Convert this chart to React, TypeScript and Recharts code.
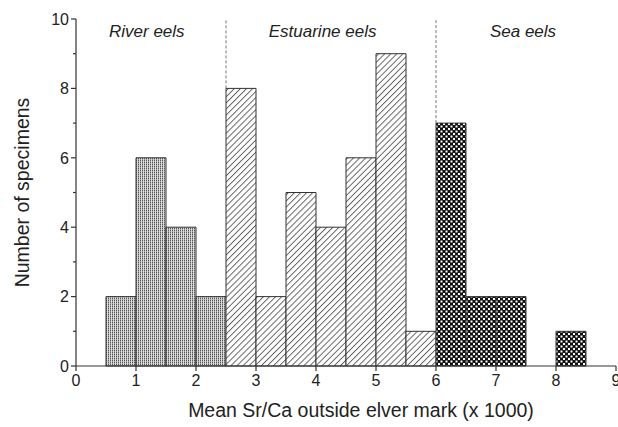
import React from 'react';
import { BarChart, Bar, XAxis, YAxis, Cell, ReferenceLine, ReferenceDot } from 'recharts';

// histogram bins (lower edge) and counts
const binStarts = [0.5, 1, 1.5, 2, 2.5, 3, 3.5, 4, 4.5, 5, 5.5, 6, 6.5, 7, 7.5, 8];
const counts = [2, 6, 4, 2, 8, 2, 5, 4, 6, 9, 1, 7, 2, 2, 0, 1];
const binWidth = 0.5;

const xTicks = [0, 1, 2, 3, 4, 5, 6, 7, 8, 9];
const yTicks = [0, 1, 2, 3, 4, 5, 6, 7, 8, 9, 10];

const groupNames = ['River eels', 'Estuarine eels', 'Sea eels'];
const groupFills = ['url(#riverFill)', 'url(#estuarineFill)', 'url(#seaFill)'];
const groupLabelX = [1.18, 4.11, 7.45];
const groupLabelY = 9.63;
const dividers = [2.5, 6];

const groupOf = (start: number) => {
    if (start < dividers[0]) return 0;
    if (start < dividers[1]) return 1;
    return 2;
};

const data = binStarts.map((s, i) => ({
    mid: s + binWidth / 2,
    count: counts[i],
    group: groupOf(s),
}));

// dashed divider stops at the taller neighbouring bar
const dividerBase = dividers.map((d) => {
    const around = binStarts
        .map((s, i) => (s === d || s + binWidth === d ? counts[i] : 0));
    return Math.max(...around);
});

const FONT = '"Liberation Sans", Arial, Helvetica, sans-serif';
const INK = '#222';

const YTick = (props: any) => {
    const { x, y, payload } = props;
    const axisX = x + 8;
    const major = payload.value % 2 === 0;
    return (
        <g>
            <line x1={axisX - (major ? 5 : 3)} x2={axisX} y1={y} y2={y} stroke="#333" strokeWidth={1.2} />
            {major && (
                <text x={axisX - 7} y={y} dy="0.36em" textAnchor="end" fontSize={16} fill={INK} fontFamily={FONT}>
                    {payload.value}
                </text>
            )}
        </g>
    );
};

const YTitle = (props: any) => {
    const vb = props.viewBox;
    const cx = vb.x + 6;
    const cy = vb.y + vb.height / 2;
    return (
        <text x={cx} y={cy} transform={`rotate(-90, ${cx}, ${cy})`} textAnchor="middle" dominantBaseline="central"
              fontSize={19.5} fill={INK} fontFamily={FONT}>
            Number of specimens
        </text>
    );
};

const XTitle = (props: any) => {
    const vb = props.viewBox;
    return (
        <text x={vb.x + vb.width / 2 + 15} y={vb.y + 51} textAnchor="middle" fontSize={19.5} fill={INK} fontFamily={FONT}>
            Mean Sr/Ca outside elver mark (x 1000)
        </text>
    );
};

function GroupLabel(props: any) {
    const { viewBox, value } = props;
    return (
        <text x={viewBox.cx ?? viewBox.x} y={viewBox.cy ?? viewBox.y} textAnchor="middle" dominantBaseline="central"
              fontSize={17} fontStyle="italic" fill={INK} fontFamily={FONT}>
            {value}
        </text>
    );
}

function Patterns() {
    return (
        <svg width={0} height={0} style={{ position: 'absolute' }}>
            <defs>
                <pattern id="riverFill" width={2} height={2} patternUnits="userSpaceOnUse">
                    <rect width={2} height={2} fill="#dcdcdc" />
                    <rect x={0} y={0} width={1} height={1} fill="#555" />
                    <rect x={0} y={1} width={1} height={1} fill="#a0a0a0" />
                </pattern>
                <pattern id="estuarineFill" width={4.3} height={10} patternUnits="userSpaceOnUse" patternTransform="rotate(45)">
                    <rect width={4.3} height={10} fill="#fff" />
                    <line x1={0.5} y1={0} x2={0.5} y2={10} stroke="#333" strokeWidth={0.8} />
                </pattern>
                <pattern id="seaFill" width={5} height={5} patternUnits="userSpaceOnUse">
                    <rect width={5} height={5} fill="#111" />
                    <rect x={0.5} y={0.5} width={2} height={2} fill="#fff" />
                    <rect x={3} y={3} width={2} height={2} fill="#fff" />
                </pattern>
            </defs>
        </svg>
    );
}

export default function App() {
    return (
        <div style={{ position: 'absolute', left: 0, top: 0, width: 618, height: 427, overflow: 'hidden', background: '#fff' }}>
            <Patterns />
            <BarChart width={618} height={427} data={data} margin={{ top: 19, right: 2, left: 16, bottom: 31 }}
                      barCategoryGap={0} barGap={0} style={{ fontFamily: FONT }}>
                <XAxis dataKey="mid" type="number" domain={[0, 9]} ticks={xTicks} interval={0}
                       axisLine={{ stroke: '#333', strokeWidth: 1.2 }} tickLine={{ stroke: '#333', strokeWidth: 1.2 }}
                       tickSize={5} tickMargin={4} height={30}
                       tick={{ fontSize: 16, fill: INK, fontFamily: FONT }}
                       label={(p: any) => <XTitle {...p} />} />
                <YAxis type="number" domain={[0, 10]} ticks={yTicks} interval={0} width={60}
                       axisLine={{ stroke: '#333', strokeWidth: 1.2 }} tickLine={false}
                       tickSize={6} tickMargin={2} tick={<YTick />}
                       label={(p: any) => <YTitle {...p} />} />
                <Bar dataKey="count" isAnimationActive={false} stroke="#333" strokeWidth={1}>
                    {data.map((d, i) => (
                        <Cell key={i} fill={groupFills[d.group]} />
                    ))}
                </Bar>
                {dividers.map((d, i) => (
                    <ReferenceLine key={'div' + i} segment={[{ x: d, y: dividerBase[i] }, { x: d, y: 10 }]}
                                   stroke="#777" strokeWidth={1} strokeDasharray="3 2" />
                ))}
                {groupNames.map((name, i) => (
                    <ReferenceDot key={'g' + i} x={groupLabelX[i]} y={groupLabelY} r={0} fill="none" stroke="none"
                                  label={(p: any) => <GroupLabel {...p} value={name} />} />
                ))}
            </BarChart>
        </div>
    );
}
